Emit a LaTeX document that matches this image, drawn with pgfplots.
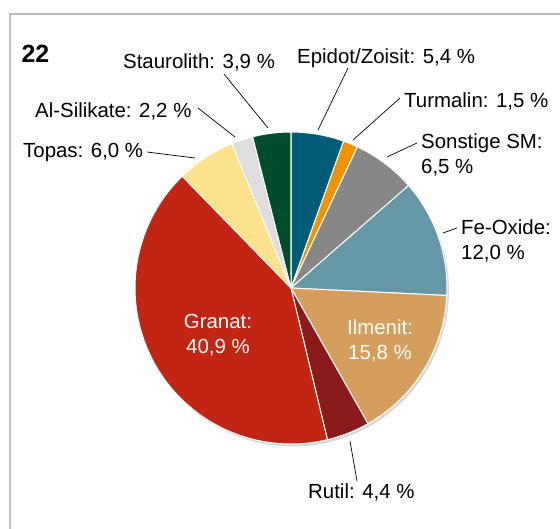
\documentclass[border=0pt]{standalone}
\usepackage{pgfplots}
\pgfplotsset{compat=1.18}
\usepackage{fontspec}
\setmainfont{Liberation Sans}
\definecolor{cEpi}{HTML}{035C76}
\definecolor{cTur}{HTML}{F39200}
\definecolor{cSon}{HTML}{878787}
\definecolor{cFe}{HTML}{6597A6}
\definecolor{cIlm}{HTML}{D49F5C}
\definecolor{cRut}{HTML}{8A1B1A}
\definecolor{cGra}{HTML}{C32515}
\definecolor{cTop}{HTML}{FDE28D}
\definecolor{cAl}{HTML}{DEDEDE}
\definecolor{cSta}{HTML}{004D2E}
\definecolor{frame}{HTML}{BDBDBD}
\newcommand\lab{\fontsize{20.5}{24}\selectfont}
\def\total{98.6}
\def\cum{0}
\newcommand\pieslice[2]{%
  \pgfmathsetmacro\sa{\cum/\total*360}%
  \pgfmathsetmacro\sb{(\cum+#1)/\total*360}%
  \edef\doslice{\noexpand\addplot[fill=#2, draw=white, line width=1bp, domain=\sa:\sb, samples=80]
    ({291+156*sin(x)},{288-156*cos(x)}) -- (axis cs:291,288) -- cycle;}%
  \doslice
  \pgfmathsetmacro\tmp{\cum+#1}\xdef\cum{\tmp}}
\begin{document}
\begin{tikzpicture}
\begin{axis}[at={(0,0)}, anchor=south west, x=1bp, y=1bp, xmin=0, xmax=560, ymin=0, ymax=529,
  y dir=reverse, hide axis, clip=false]
% frame
\addplot[frame, line width=1.5bp] coordinates {(10,529) (10,14) (560,14)};
% shadow
\addplot[fill=black!30, draw=none, opacity=0.5, domain=0:360, samples=120] ({293+156*sin(x)},{290.5-156*cos(x)}) -- cycle;
% slices (values in %, clockwise from top)
\pieslice{5.4}{cEpi}
\pieslice{1.5}{cTur}
\pieslice{6.5}{cSon}
\pieslice{12.0}{cFe}
\pieslice{15.8}{cIlm}
\pieslice{4.4}{cRut}
\pieslice{40.9}{cGra}
\pieslice{6.0}{cTop}
\pieslice{2.2}{cAl}
\pieslice{3.9}{cSta}
% leader lines
\addplot[black, line width=0.7bp] coordinates {(224,74) (268,128)};
\addplot[black, line width=0.7bp] coordinates {(198,108) (235,137)};
\addplot[black, line width=0.7bp] coordinates {(147,152) (195,158)};
\addplot[black, line width=0.7bp] coordinates {(348,68) (318,130)};
\addplot[black, line width=0.7bp] coordinates {(400,98) (353,140)};
\addplot[black, line width=0.7bp] coordinates {(417,143) (387,157)};
\addplot[black, line width=0.7bp] coordinates {(457,228) (443,233)};
\addplot[black, line width=0.7bp] coordinates {(350,441) (357,481)};
% labels
\node[anchor=base west, font=\fontsize{25}{28}\selectfont\bfseries] at (axis cs:18,62) {22};
\node[anchor=base west, font=\lab, inner sep=0pt] at (axis cs:123,68) {Staurolith: 3,9 \%};
\node[anchor=base west, font=\lab, inner sep=0pt] at (axis cs:35,117) {Al-Silikate: 2,2 \%};
\node[anchor=base west, font=\lab, inner sep=0pt] at (axis cs:23,157) {Topas: 6,0 \%};
\node[anchor=base west, font=\lab, inner sep=0pt] at (axis cs:297,63) {Epidot/Zoisit: 5,4 \%};
\node[anchor=base west, font=\lab, inner sep=0pt] at (axis cs:404,107) {Turmalin: 1,5 \%};
\node[anchor=base west, font=\lab, inner sep=0pt] at (axis cs:421,148) {Sonstige SM:};
\node[anchor=base west, font=\lab, inner sep=0pt] at (axis cs:421,173) {6,5 \%};
\node[anchor=base west, font=\lab, inner sep=0pt] at (axis cs:461,234) {Fe-Oxide:};
\node[anchor=base west, font=\lab, inner sep=0pt] at (axis cs:461,259) {12,0 \%};
\node[anchor=base west, font=\lab, inner sep=0pt] at (axis cs:308,498) {Rutil: 4,4 \%};
\node[anchor=base, font=\lab, inner sep=0pt, text=white] at (axis cs:218,328) {Granat:};
\node[anchor=base, font=\lab, inner sep=0pt, text=white] at (axis cs:218,353) {40,9 \%};
\node[anchor=base, font=\lab, inner sep=0pt, text=white] at (axis cs:380,334) {Ilmenit:};
\node[anchor=base, font=\lab, inner sep=0pt, text=white] at (axis cs:380,359) {15,8 \%};
\end{axis}
\pgfresetboundingbox
\path (0,0) rectangle (560bp,529bp);
\end{tikzpicture}
\end{document}
